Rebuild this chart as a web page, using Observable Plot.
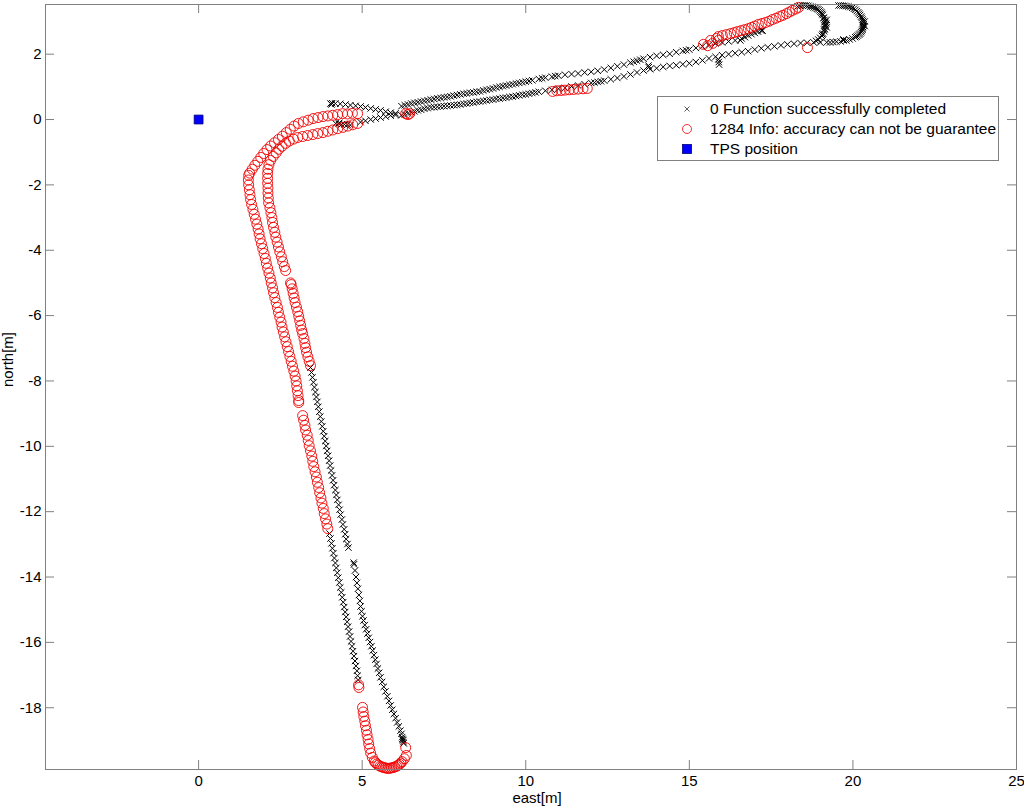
<!DOCTYPE html>
<html><head><meta charset="utf-8">
<script src="https://cdn.jsdelivr.net/npm/d3@7"></script>
<script src="https://cdn.jsdelivr.net/npm/@observablehq/plot@0.6"></script>
<style>
body{margin:0;background:#fff;font-family:"Liberation Sans",Arial,sans-serif;}
#wrap{position:relative;width:1024px;height:810px;overflow:hidden;}
#legend{position:absolute;left:657px;top:96px;width:342px;height:65px;border:1px solid #808080;background:#fff;box-sizing:border-box;font-size:15.5px;color:#000;}
#legend .row{position:absolute;left:0;height:20px;width:100%;}
#legend svg{position:absolute;left:19px;top:0;}
#legend span{position:absolute;left:52px;top:1px;white-space:nowrap;line-height:18px;}
</style></head><body><div id="wrap"></div>
<script>
// ---- tick values ----
const xTicks = [0, 5, 10, 15, 20, 25];
const yTicks = [2, 0, -2, -4, -6, -8, -10, -12, -14, -16, -18];
const seriesLabels = ["0 Function successfully completed", "1284 Info: accuracy can not be guarantee", "TPS position"];

// ---- status 0 (black x) : [east, north] ----
const okLeadTop = [[4.03,0.49],[4.06,0.46],[4.08,0.50],[4.18,0.49],[4.33,0.48],[4.49,0.46],[4.64,0.44],[4.80,0.42],[4.95,0.40],[5.10,0.37],[5.26,0.34],[5.41,0.31],[5.56,0.28],[5.72,0.24],[5.87,0.21],[6.02,0.19]];
const okLeadLow = [[4.19,-0.12],[4.28,-0.13],[4.30,-0.10],[4.37,-0.15],[4.46,-0.15],[4.55,-0.16],[4.64,-0.17],[4.95,-0.08],[5.10,-0.04],[5.26,0.00],[5.41,0.03],[5.56,0.06],[5.72,0.09],[5.87,0.12],[6.02,0.14]];
const okUpper = [[6.2,0.41],[6.3,0.44],[6.4,0.46],[6.5,0.49],[6.6,0.51],[6.7,0.53],[6.8,0.55],[6.9,0.57],[7.0,0.59],[7.1,0.61],[7.2,0.63],[7.3,0.65],[7.4,0.66],[7.5,0.68],[7.6,0.69],[7.7,0.71],[7.8,0.73],[7.9,0.75],[8.0,0.77],[8.1,0.79],[8.2,0.80],[8.3,0.82],[8.4,0.83],[8.5,0.85],[8.6,0.86],[8.7,0.89],[8.8,0.91],[8.9,0.93],[9.0,0.95],[9.1,0.98],[9.2,1.00],[9.3,1.02],[9.4,1.04],[9.5,1.06],[9.6,1.08],[9.7,1.10],[9.8,1.12],[9.9,1.14],[10.0,1.16],[10.1,1.18],[10.2,1.20],[10.4,1.24],[10.5,1.26],[10.6,1.28],[10.8,1.31],[10.9,1.33],[11.0,1.34],[11.2,1.37],[11.4,1.39],[11.6,1.41],[11.8,1.44],[12.0,1.46],[12.2,1.49],[12.4,1.53],[12.6,1.58],[12.8,1.63],[13.0,1.68],[13.2,1.74],[13.3,1.77],[13.4,1.80],[13.5,1.83],[13.6,1.86],[13.8,1.91],[14.0,1.95],[14.2,1.98],[14.4,2.01],[14.6,2.06],[14.8,2.10],[14.9,2.12],[15.0,2.14],[15.2,2.19],[15.4,2.24],[15.6,2.29],[15.8,2.33],[16.0,2.36],[16.2,2.39],[16.4,2.42],[16.56,2.42],[16.6,2.48],[16.7,2.52],[16.8,2.57],[16.9,2.61],[17.0,2.65],[17.1,2.69],[17.2,2.72],[17.24,2.72]];
const okLower = [[6.2,0.13],[6.3,0.16],[6.4,0.19],[6.5,0.22],[6.6,0.25],[6.7,0.28],[6.8,0.30],[6.9,0.33],[7.0,0.35],[7.1,0.37],[7.2,0.38],[7.3,0.39],[7.4,0.40],[7.5,0.41],[7.6,0.42],[7.7,0.43],[7.8,0.44],[7.9,0.45],[8.0,0.46],[8.1,0.48],[8.2,0.49],[8.3,0.51],[8.4,0.52],[8.5,0.54],[8.6,0.55],[8.7,0.57],[8.8,0.58],[8.9,0.60],[9.0,0.61],[9.1,0.63],[9.2,0.64],[9.3,0.66],[9.4,0.67],[9.5,0.69],[9.6,0.70],[9.7,0.72],[9.8,0.74],[9.9,0.76],[10.0,0.77],[10.1,0.79],[10.2,0.81],[10.3,0.83],[10.4,0.85],[10.6,0.88],[10.8,0.91],[11.0,0.94],[11.2,0.97],[11.4,1.01],[11.6,1.04],[11.8,1.08],[12.0,1.12],[12.1,1.13],[12.2,1.15],[12.3,1.17],[12.4,1.19],[12.6,1.23],[12.8,1.27],[13.0,1.32],[13.2,1.38],[13.4,1.44],[13.6,1.50],[13.75,1.65],[13.76,1.60],[13.8,1.54],[14.0,1.57],[14.2,1.61],[14.4,1.64],[14.6,1.66],[14.8,1.69],[15.0,1.72],[15.2,1.76],[15.4,1.81],[15.6,1.87],[15.8,1.92],[15.89,1.84],[15.90,1.76],[15.91,1.68],[16.0,1.97],[16.2,2.00],[16.4,2.03],[16.6,2.06],[16.8,2.09],[17.0,2.14],[17.2,2.18],[17.4,2.21],[17.6,2.24],[17.8,2.27],[18.0,2.30],[18.2,2.32],[18.4,2.34],[18.6,2.35],[18.8,2.36],[19.0,2.36],[19.2,2.36]];
const okLoop1 = [[18.31,3.46],[18.38,3.48],[18.45,3.49],[18.52,3.50],[18.58,3.49],[18.64,3.48],[18.70,3.46],[18.75,3.45],[18.80,3.43],[18.85,3.41],[18.90,3.39],[18.94,3.37],[18.98,3.34],[19.01,3.30],[19.04,3.27],[19.06,3.23],[19.08,3.20],[19.10,3.10],[19.11,3.12],[19.13,3.05],[19.14,3.00],[19.15,2.98],[19.16,2.91],[19.17,2.88],[19.18,2.94],[19.15,2.84],[19.14,2.77],[19.12,2.75],[19.12,2.70],[19.09,2.63],[19.07,2.60],[19.05,2.56],[19.00,2.50],[18.94,2.45],[18.87,2.41],[19.20,3.05],[19.20,2.82]];
const okLoop2 = [[19.56,3.49],[19.62,3.49],[19.68,3.48],[19.74,3.48],[19.80,3.47],[19.86,3.46],[19.92,3.44],[19.98,3.42],[20.03,3.39],[20.08,3.36],[20.12,3.32],[20.16,3.28],[20.19,3.24],[20.22,3.20],[20.25,3.15],[20.27,3.11],[20.29,3.06],[20.31,3.02],[20.32,2.97],[20.33,2.92],[20.32,2.88],[20.31,2.83],[20.30,2.79],[20.29,2.75],[20.27,2.71],[20.25,2.67],[20.22,2.63],[20.19,2.60],[20.15,2.57],[20.11,2.54],[20.07,2.52],[19.99,2.48],[19.90,2.45],[19.80,2.42],[19.71,2.42],[19.71,2.45],[19.62,2.39],[19.50,2.38],[19.40,2.37],[19.30,2.36],[20.36,3.00],[20.36,2.86]];
const okInnerSouthA = [[3.42,-7.59],[3.45,-7.74],[3.48,-7.89],[3.51,-8.04],[3.54,-8.19],[3.57,-8.34],[3.60,-8.49],[3.63,-8.64],[3.66,-8.79],[3.69,-8.94],[3.72,-9.09],[3.75,-9.24],[3.78,-9.39],[3.81,-9.54],[3.84,-9.69],[3.87,-9.84],[3.90,-9.99],[3.93,-10.14],[3.96,-10.29],[3.99,-10.44],[4.02,-10.59],[4.05,-10.74],[4.08,-10.89],[4.11,-11.04],[4.14,-11.19],[4.18,-11.34],[4.21,-11.49],[4.24,-11.64],[4.28,-11.79],[4.31,-11.94],[4.34,-12.09],[4.38,-12.24],[4.41,-12.39],[4.45,-12.54],[4.48,-12.69],[4.51,-12.84],[4.55,-12.99],[4.58,-13.10]];
const okInnerSouthB = [[4.74,-13.56],[4.75,-13.61],[4.78,-13.80],[4.81,-14.00],[4.84,-14.18],[4.87,-14.36],[4.90,-14.55],[4.93,-14.73],[4.95,-14.90],[4.98,-15.05],[5.01,-15.20],[5.04,-15.33],[5.08,-15.47],[5.12,-15.60],[5.16,-15.73],[5.20,-15.86],[5.24,-15.99],[5.28,-16.12],[5.32,-16.25],[5.36,-16.39],[5.40,-16.53],[5.44,-16.66],[5.48,-16.80],[5.52,-16.93],[5.56,-17.07],[5.61,-17.21],[5.66,-17.36],[5.71,-17.50],[5.77,-17.65],[5.82,-17.79],[5.87,-17.93],[5.92,-18.06],[5.97,-18.19],[6.02,-18.32],[6.07,-18.45],[6.12,-18.57],[6.17,-18.70],[6.20,-18.80],[6.22,-18.90],[6.24,-18.98],[6.26,-19.05],[6.27,-19.09],[6.25,-19.00],[6.23,-18.95]];
const okOuterSouth = [[4.00,-12.67],[4.03,-12.82],[4.06,-12.97],[4.09,-13.12],[4.12,-13.27],[4.15,-13.42],[4.18,-13.57],[4.21,-13.72],[4.24,-13.87],[4.27,-14.02],[4.30,-14.17],[4.33,-14.32],[4.36,-14.47],[4.39,-14.62],[4.42,-14.77],[4.45,-14.92],[4.48,-15.07],[4.51,-15.22],[4.54,-15.37],[4.57,-15.52],[4.60,-15.67],[4.63,-15.82],[4.66,-15.97],[4.69,-16.12],[4.72,-16.27],[4.75,-16.42],[4.78,-16.57],[4.81,-16.72],[4.84,-16.87],[4.86,-17.02],[4.88,-17.15]];

// ---- status 1284 (red o) : [east, north] ----
const infoOuterCurve = [[4.86,0.18],[4.70,0.19],[4.55,0.17],[4.40,0.18],[4.25,0.15],[4.10,0.13],[3.95,0.11],[3.80,0.09],[3.65,0.06],[3.50,0.03],[3.35,-0.02],[3.20,-0.07],[3.05,-0.12],[2.92,-0.20],[2.80,-0.30],[2.68,-0.40],[2.56,-0.51],[2.44,-0.61],[2.32,-0.71],[2.20,-0.81],[2.09,-0.92],[1.99,-1.04],[1.90,-1.16],[1.81,-1.28],[1.72,-1.40],[1.64,-1.52],[1.56,-1.64],[1.53,-1.71]];
const infoOuterSouthA = [[1.52,-1.85],[1.53,-2.00],[1.55,-2.15],[1.57,-2.30],[1.59,-2.45],[1.62,-2.60],[1.66,-2.75],[1.70,-2.90],[1.74,-3.05],[1.78,-3.20],[1.82,-3.35],[1.85,-3.50],[1.88,-3.65],[1.92,-3.80],[1.96,-3.95],[2.00,-4.10],[2.04,-4.25],[2.07,-4.40],[2.11,-4.55],[2.15,-4.70],[2.19,-4.85],[2.22,-5.00],[2.26,-5.15],[2.29,-5.30],[2.33,-5.45],[2.37,-5.60],[2.41,-5.75],[2.44,-5.90],[2.48,-6.05],[2.52,-6.20],[2.55,-6.35],[2.59,-6.50],[2.63,-6.65],[2.67,-6.80],[2.71,-6.95],[2.75,-7.10],[2.79,-7.25],[2.83,-7.40],[2.87,-7.55],[2.91,-7.70],[2.95,-7.85],[2.98,-8.00],[3.00,-8.15],[3.02,-8.30],[3.04,-8.45],[3.06,-8.60],[3.06,-8.66]];
const infoOuterSouthB = [[3.18,-9.06],[3.21,-9.20],[3.25,-9.36],[3.27,-9.50],[3.32,-9.66],[3.35,-9.82],[3.38,-9.98],[3.42,-10.14],[3.46,-10.30],[3.49,-10.46],[3.52,-10.62],[3.56,-10.78],[3.60,-10.94],[3.63,-11.10],[3.67,-11.26],[3.70,-11.42],[3.74,-11.58],[3.77,-11.74],[3.81,-11.90],[3.84,-12.06],[3.88,-12.22],[3.92,-12.38],[3.95,-12.52]];
const infoOuterTail = [[4.89,-17.30],[4.90,-17.38]];
const infoUturn = [[5.01,-17.99],[5.03,-18.13],[5.05,-18.27],[5.08,-18.41],[5.10,-18.55],[5.13,-18.69],[5.15,-18.83],[5.18,-18.97],[5.20,-19.11],[5.23,-19.25],[5.26,-19.39],[5.31,-19.52],[5.37,-19.63],[5.40,-19.68],[5.45,-19.72],[5.50,-19.76],[5.55,-19.79],[5.60,-19.81],[5.65,-19.83],[5.70,-19.84],[5.75,-19.85],[5.80,-19.86],[5.85,-19.85],[5.90,-19.84],[5.95,-19.83],[6.00,-19.81],[6.05,-19.79],[6.10,-19.76],[6.14,-19.73],[6.18,-19.69],[6.22,-19.65],[6.29,-19.56],[6.35,-19.46],[6.33,-19.22]];
const infoInnerCurve = [[4.86,-0.12],[4.71,-0.16],[4.56,-0.20],[4.41,-0.24],[4.25,-0.28],[4.10,-0.32],[3.95,-0.36],[3.80,-0.40],[3.64,-0.43],[3.49,-0.46],[3.33,-0.49],[3.18,-0.52],[3.03,-0.55],[2.90,-0.60],[2.77,-0.66],[2.66,-0.73],[2.55,-0.82],[2.45,-0.91],[2.37,-1.02],[2.28,-1.13],[2.20,-1.25],[2.15,-1.38],[2.12,-1.52],[2.11,-1.65],[2.11,-1.80],[2.11,-1.95],[2.12,-2.10],[2.12,-2.25],[2.13,-2.40],[2.14,-2.55],[2.18,-2.70],[2.21,-2.85],[2.24,-3.00],[2.26,-3.15],[2.29,-3.30],[2.33,-3.45],[2.36,-3.60],[2.40,-3.75],[2.44,-3.90],[2.48,-4.05],[2.53,-4.20],[2.57,-4.35],[2.62,-4.50],[2.66,-4.62]];
const infoInnerSouth = [[2.81,-5.00],[2.83,-5.05],[2.86,-5.18],[2.89,-5.32],[2.92,-5.46],[2.95,-5.60],[2.99,-5.74],[3.03,-5.88],[3.06,-6.02],[3.09,-6.16],[3.12,-6.30],[3.15,-6.44],[3.18,-6.55],[3.22,-6.70],[3.25,-6.85],[3.27,-6.98],[3.30,-7.12],[3.34,-7.26],[3.38,-7.40],[3.42,-7.53]];
const infoBandStart = [[6.33,0.18],[6.45,0.18],[6.40,0.15]];
const infoBandLow = [[10.82,0.86],[10.95,0.88],[11.08,0.89],[11.20,0.90],[11.33,0.91],[11.46,0.92],[11.60,0.93],[11.75,0.94],[11.88,0.95]];
const infoBandUpper = [[15.43,2.30],[15.56,2.26],[15.65,2.42],[15.71,2.33],[15.83,2.48],[15.89,2.42],[15.89,2.54],[16.01,2.57],[16.14,2.60],[16.26,2.63],[16.37,2.66],[16.47,2.69],[16.58,2.72],[16.69,2.75],[16.80,2.78],[16.90,2.82],[17.00,2.86],[17.11,2.91],[17.22,2.94],[17.33,2.97],[17.44,3.01],[17.54,3.06],[17.65,3.10],[17.76,3.15],[17.86,3.19],[17.97,3.24],[18.06,3.29],[18.15,3.34],[18.25,3.38],[18.34,3.43]];
const infoLoop1 = [[18.61,2.20]];

// ---- TPS position ----
const tpsPosition = [[0, 0]];

const status0 = [].concat(okLeadTop, okLeadLow, okUpper, okLower, okLoop1, okLoop2, okInnerSouthA, okInnerSouthB, okOuterSouth);
const status1284 = [].concat(infoOuterCurve, infoOuterSouthA, infoOuterSouthB, infoOuterTail, infoUturn, infoInnerCurve, infoInnerSouth, infoBandStart, infoBandLow, infoBandUpper, infoLoop1);

const W = 1024, H = 810, mL = 45, mT = 4, mR = 8, mB = 41;
const innerH = H - mT - mB, innerW = W - mL - mR;
const axisGray = "#808080";
const font = '"Liberation Sans", Arial, Helvetica, sans-serif';

const chart = Plot.plot({
  width: W, height: H,
  marginLeft: mL, marginTop: mT, marginRight: mR, marginBottom: mB,
  style: {fontFamily: font, fontSize: "15px", background: "#fff", color: "#000", overflow: "visible"},
  x: {domain: [-4.68, 25]},
  y: {domain: [-19.89, 3.52]},
  marks: [
    Plot.tickX(xTicks, {x: d => d, stroke: axisGray, insetTop: innerH - 9}),
    Plot.tickX(xTicks, {x: d => d, stroke: axisGray, insetBottom: innerH - 9}),
    Plot.tickY(yTicks, {y: d => d, stroke: axisGray, insetRight: innerW - 9}),
    Plot.tickY(yTicks, {y: d => d, stroke: axisGray, insetLeft: innerW - 9}),
    Plot.axisX({ticks: xTicks, tickSize: 0, tickPadding: 6, label: null, tickFormat: d => String(d), fill: "#000"}),
    Plot.axisY({ticks: yTicks, tickSize: 0, tickPadding: 4, label: null, tickFormat: d => String(d), fill: "#000"}),
    Plot.text(["east[m]"], {frameAnchor: "bottom", dx: 6, dy: 33, fill: "#000", fontSize: 15}),
    Plot.text(["north[m]"], {frameAnchor: "left", dx: -37, rotate: -90, fill: "#000", fontSize: 15}),
    Plot.dot(status0, {x: d => d[0], y: d => d[1], symbol: "times", r: 3, stroke: "#000", strokeWidth: 1}),
    Plot.dot(status1284, {x: d => d[0], y: d => d[1], symbol: "circle", r: 5, stroke: "#f00000", strokeWidth: 0.9, fill: "none"}),
    Plot.dot(tpsPosition, {x: d => d[0], y: d => d[1], symbol: "square", r: 5, fill: "#0000ff", stroke: "#00007a", strokeWidth: 0.8}),
    Plot.frame({stroke: axisGray, strokeWidth: 1})
  ]
});

const wrap = document.getElementById("wrap");
wrap.appendChild(chart);

// legend (inside the axes, upper right)
const legend = document.createElement("div");
legend.id = "legend";
const symbols = [
  '<svg width="20" height="20"><path d="M7.5,7.5L12.5,12.5M12.5,7.5L7.5,12.5" stroke="#333" stroke-width="0.8"/></svg>',
  '<svg width="20" height="20"><circle cx="10" cy="10" r="4.5" fill="none" stroke="#f00000" stroke-width="0.8"/></svg>',
  '<svg width="20" height="20"><rect x="5.5" y="5.5" width="9" height="9" fill="#0000ff" stroke="#00007a" stroke-width="0.8"/></svg>'
];
const rowTops = [2, 22, 42];
seriesLabels.forEach((lab, i) => {
  const row = document.createElement("div");
  row.className = "row";
  row.style.top = rowTops[i] + "px";
  row.innerHTML = symbols[i] + "<span>" + lab + "</span>";
  legend.appendChild(row);
});
wrap.appendChild(legend);
</script>
</body></html>
